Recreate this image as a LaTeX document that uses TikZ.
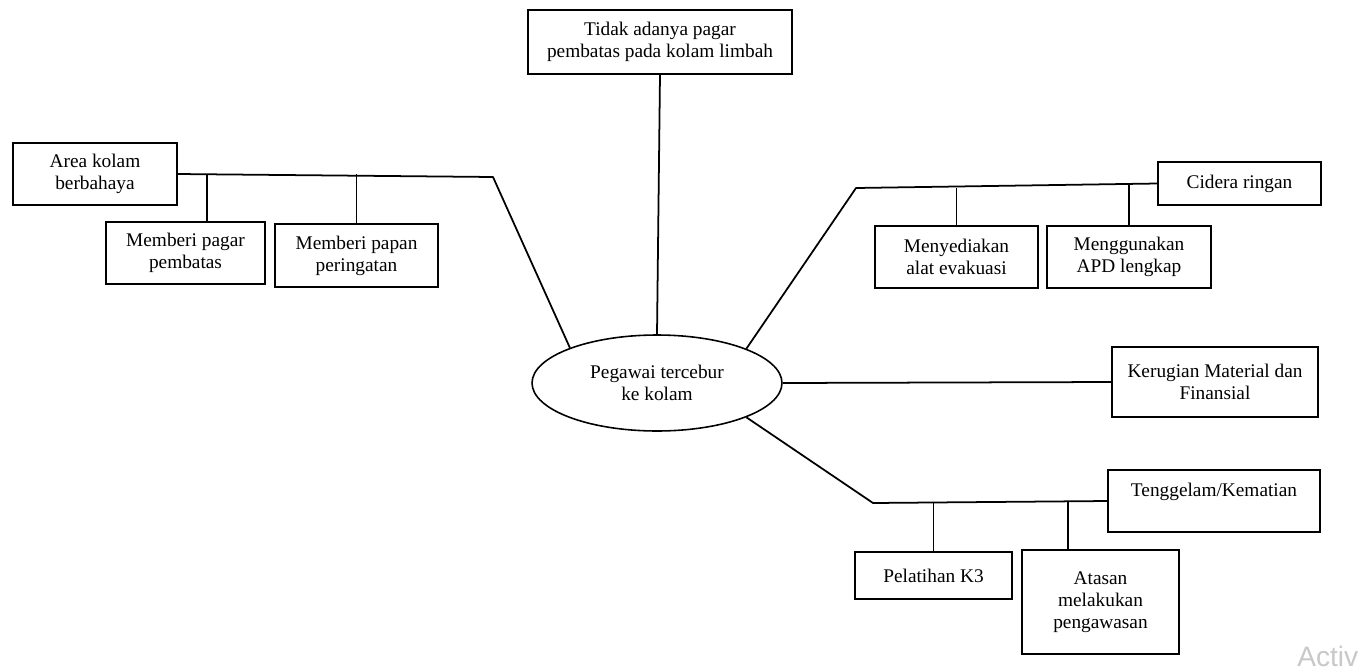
\documentclass[tikz,border=0pt]{standalone}
\usepackage{fontspec}
\setmainfont{Liberation Serif}
\newfontfamily\wmfont{Liberation Sans}
\usepackage{xcolor}
\usepackage{tikz}
\usetikzlibrary{shapes.geometric}
\definecolor{wmgray}{RGB}{200,200,200}
\tikzset{
  bx/.style={draw,line width=0.8pt,align=center,inner sep=2pt,font=\fontsize{11}{12.5}\selectfont},
  ev/.style={draw,ellipse,line width=0.9pt,align=center,inner sep=0pt,font=\fontsize{11}{12.5}\selectfont},
  ln/.style={line width=1pt,line join=round},
  br/.style={line width=1pt}
}

\begin{document}
\begin{tikzpicture}[x=0.02cm,y=-0.02cm]
\useasboundingbox (0,0) rectangle (1363,670);
% centre
\node[ev,minimum width=5cm,minimum height=1.92cm] (peg) at (657,383) {Pegawai tercebur\\ke kolam};
% boxes
\node[bx,minimum width=5.28cm,minimum height=1.28cm] (tdk) at (660,42) {Tidak adanya pagar\\pembatas pada kolam limbah};
\node[bx,minimum width=3.28cm,minimum height=1.24cm] (area) at (95,174) {Area kolam\\berbahaya};
\node[bx,minimum width=3.18cm,minimum height=1.24cm] (pagar) at (185.5,253) {Memberi pagar\\pembatas};
\node[bx,minimum width=3.26cm,minimum height=1.26cm] (papan) at (356.5,255.5) {Memberi papan\\peringatan};
\node[bx,minimum width=3.26cm,minimum height=0.86cm] (cidera) at (1239.5,183.5) {Cidera ringan};
\node[bx,minimum width=3.26cm,minimum height=1.24cm] (sedia) at (956.5,257) {Menyediakan\\alat evakuasi};
\node[bx,minimum width=3.28cm,minimum height=1.24cm] (apd) at (1129,257) {Menggunakan\\APD lengkap};
\node[bx,minimum width=4.12cm,minimum height=1.40cm] (rugi) at (1215,382) {Kerugian Material dan\\Finansial};
\node[bx,minimum width=4.24cm,minimum height=1.24cm] (tgl) at (1214,501) {Tenggelam/Kematian\\\mbox{}};
\node[bx,minimum width=3.14cm,minimum height=0.94cm] (k3) at (933.5,575.5) {Pelatihan K3};
\node[bx,minimum width=3.14cm,minimum height=2.08cm] (atasan) at (1100.5,602) {Atasan\\melakukan\\pengawasan};
% joints
\coordinate (jL) at (493,177);
\coordinate (jR) at (856,188);
\coordinate (jB) at (873,503);
% connectors
\draw[ln] (tdk.south) -- (peg.north);
\draw[ln] (area.east) -- (jL) -- (peg.158);
\draw[ln] (cidera.west) -- (jR) -- (peg.21);
\draw[ln] (peg.east) -- (rugi.west);
\draw[ln] (tgl.west) -- (jB) -- (peg.-21);
\draw[br] ([xshift=0.43cm]pagar.north) -- ([xshift=0.43cm]pagar.north |- area.east);
\draw[br] (papan.north) -- (papan.north |- area.east);
\draw[br] (sedia.north) -- (sedia.north |- jR);
\draw[br] (apd.north) -- (apd.north |- cidera.west);
\draw[br] (k3.north) -- (k3.north |- jB);
\draw[br] ([xshift=-0.65cm]atasan.north) -- ([xshift=-0.65cm]atasan.north |- tgl.west);
% watermark
\node[anchor=base west,text=wmgray,font=\wmfont\fontsize{16}{16}\selectfont,inner sep=0pt] (wm) at (1297,666) {Activ};
\end{tikzpicture}
\end{document}
